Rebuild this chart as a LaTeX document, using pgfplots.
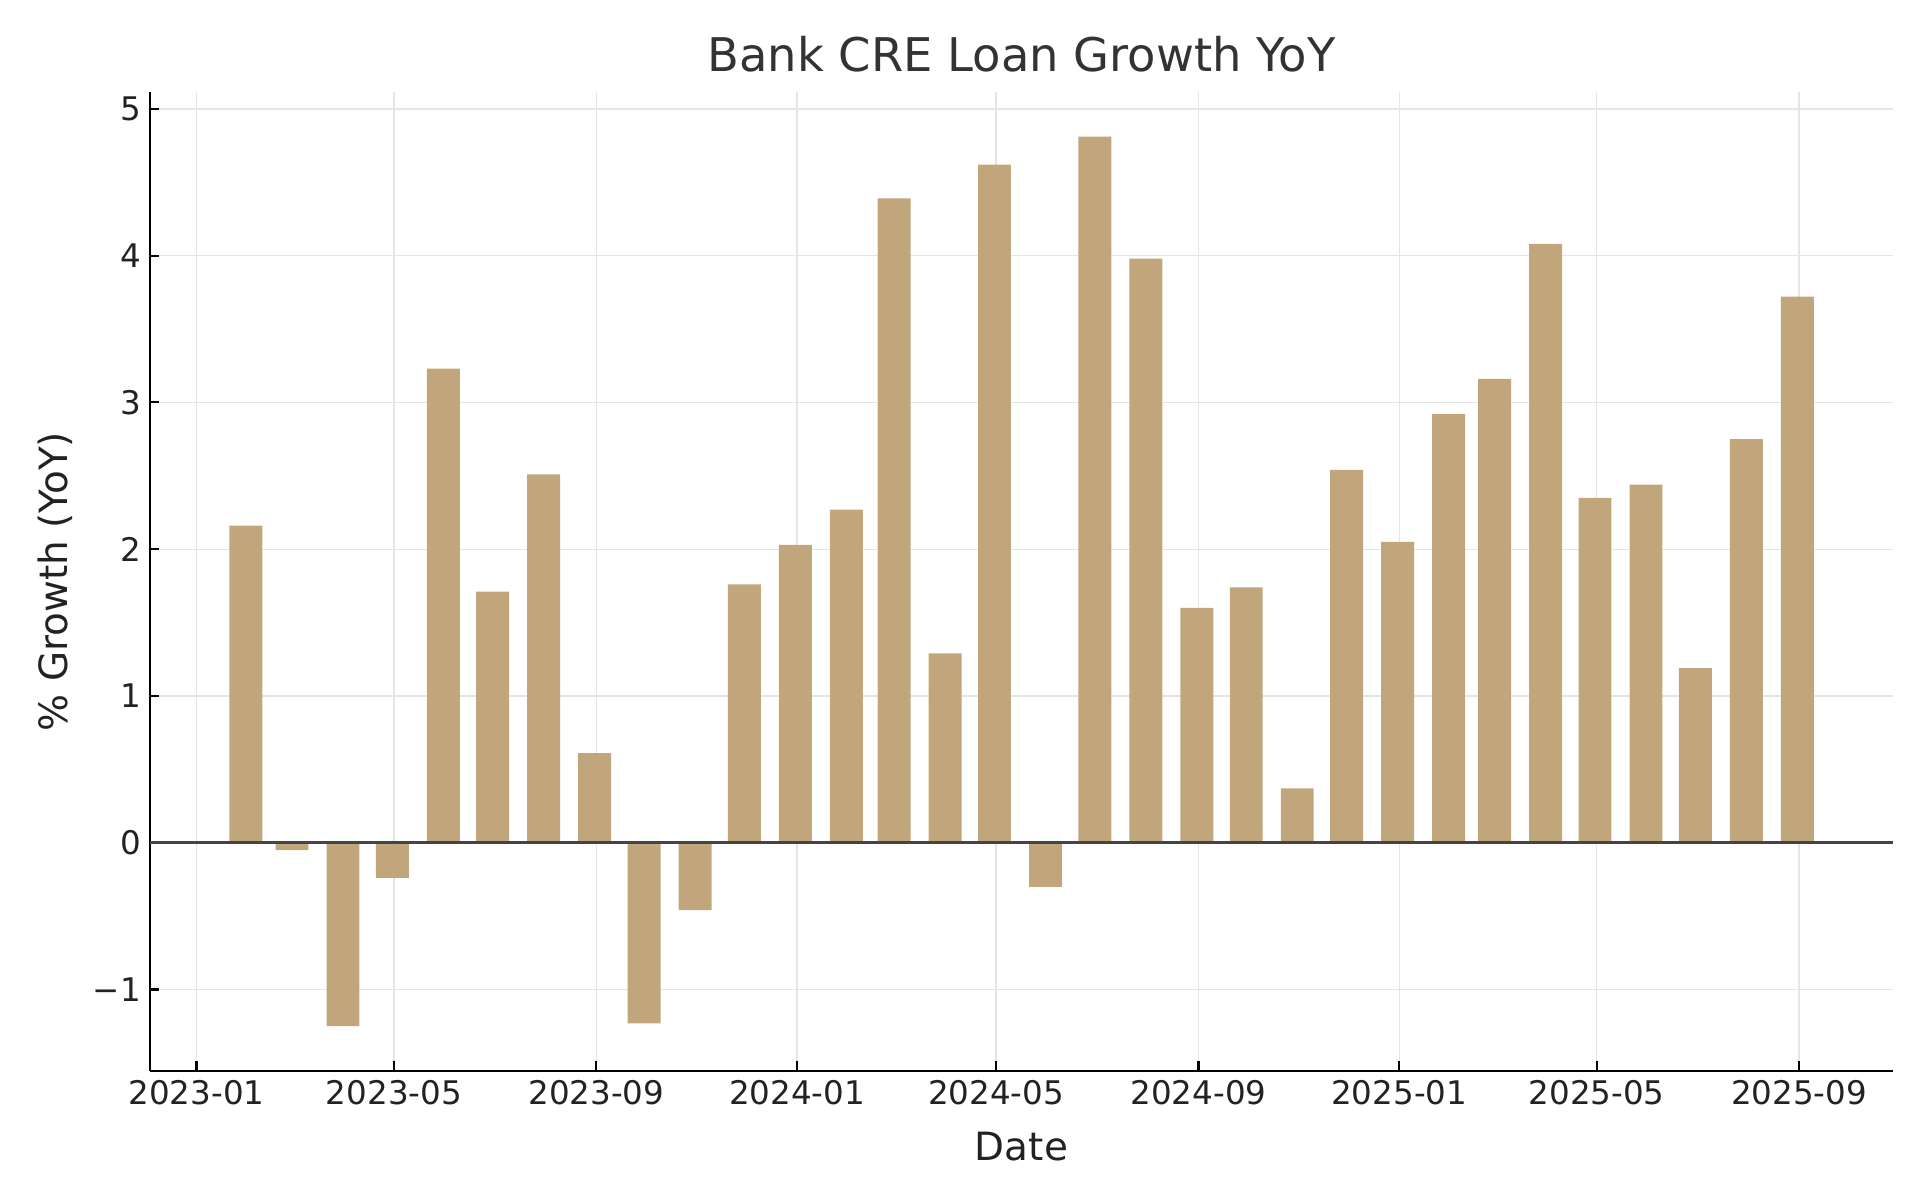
\documentclass[border=0pt]{standalone}
\usepackage{fontspec}
\setmainfont{DejaVu Sans}
\usepackage{pgfplots}
\pgfplotsset{compat=1.18}
\definecolor{barc}{RGB}{192,166,122}
\definecolor{gridc}{RGB}{229,229,229}
\definecolor{zeroc}{RGB}{68,68,68}
\definecolor{titc}{RGB}{51,51,51}
\definecolor{tickc}{RGB}{34,34,34}
\begin{document}
\begin{tikzpicture}
\useasboundingbox (0,0) rectangle (720pt,450pt);
\begin{axis}[
  at={(56.3pt,48.5pt)}, anchor=south west,
  scale only axis, width=653.5pt, height=366.9pt,
  xmin=-28.2, xmax=1031, ymin=-1.553, ymax=5.113,
  axis lines=left, axis line style={-, black, line width=0.8pt},
  xtick={0,120,243,365,486,609,731,851,974},
  xticklabels={2023-01,2023-05,2023-09,2024-01,2024-05,2024-09,2025-01,2025-05,2025-09},
  ytick={-1,0,1,2,3,4,5},
  yticklabels={−1,0,1,2,3,4,5},
  tick align=inside, major tick length=3.5pt,
  tick style={black, line width=0.8pt},
  tick label style={font=\fontsize{12.2}{14}\selectfont, text=tickc},
  xmajorgrids, ymajorgrids,
  grid style={gridc, line width=0.5pt},
  title={Bank CRE Loan Growth YoY},
  title style={at={(axis description cs:0.5,1.0226)}, anchor=center, font=\fontsize{17.4}{20}\selectfont, text=titc},
  xlabel={Date},
  xlabel style={at={(axis description cs:0.5,-0.078)}, anchor=center, font=\fontsize{14.6}{17}\selectfont, text=tickc},
  ylabel={\% Growth (YoY)},
  ylabel style={at={(axis description cs:-0.0544,0.5)}, anchor=center, font=\fontsize{14.6}{17}\selectfont, text=tickc},
  clip=false,
]
\addplot[ybar, bar width=20, fill=barc, draw=none] coordinates {
(30,2.16) (58,-0.05) (89,-1.25) (119,-0.24) (150,3.23) (180,1.71) (211,2.51) (242,0.61)
(272,-1.23) (303,-0.46) (333,1.76) (364,2.03) (395,2.27) (424,4.39) (455,1.29) (485,4.62)
(516,-0.30) (546,4.81) (577,3.98) (608,1.60) (638,1.74) (669,0.37) (699,2.54) (730,2.05)
(761,2.92) (789,3.16) (820,4.08) (850,2.35) (881,2.44) (911,1.19) (942,2.75) (973,3.72)
};
\addplot[zeroc, line width=1pt] coordinates {(-28.2,0) (1031,0)};
\end{axis}
\end{tikzpicture}
\end{document}
